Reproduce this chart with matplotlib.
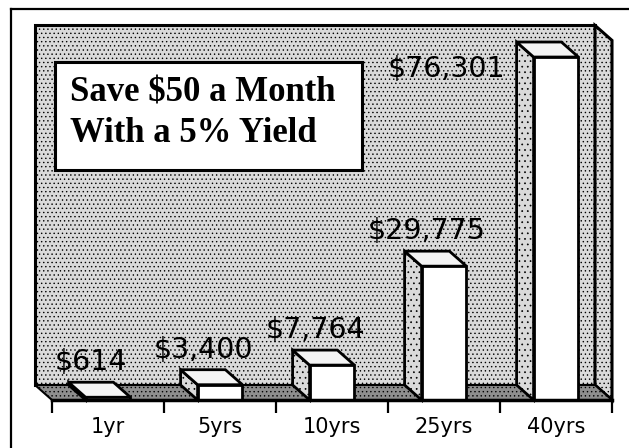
import matplotlib
matplotlib.use("Agg")
import matplotlib.pyplot as plt
from matplotlib.patches import Polygon, Rectangle
from matplotlib.lines import Line2D

# data
periods = ["1yr", "5yrs", "10yrs", "25yrs", "40yrs"]
savings = [614, 3400, 7764, 29775, 76301]
title_lines = ["Save $50 a Month", "With a 5% Yield"]

W, H = 629, 448
fig = plt.figure(figsize=(W / 100, H / 100), dpi=100)
fig.patch.set_facecolor("white")

# front plane of the 3d box, in pixels
left_px, right_px, base_px, top_px = 52, 612, 400, 40.4
ax = fig.add_axes([left_px / W, 1 - base_px / H,
                   (right_px - left_px) / W, (base_px - top_px) / H])
ymax = 80000
n = len(periods)
ax.set_xlim(-0.5, n - 0.5)
ax.set_ylim(0, ymax)

# depth of the box, pixels -> data units
ppx = (right_px - left_px) / n
ppy = (base_px - top_px) / ymax
dx = -17 / ppx
dy = 15 / ppy

wall_col = "#dadada"
floor_col = "#8e8e8e"
plt.rcParams["hatch.color"] = "#8a8a8a"
plt.rcParams["hatch.linewidth"] = 0.5

# back wall
ax.add_patch(Polygon([(-0.5 + dx, dy), (-0.5 + dx, ymax + dy), (n - 0.5 + dx, ymax + dy),
                      (n - 0.5 + dx, dy)], closed=True, facecolor=wall_col, hatch="....",
                     edgecolor="black", lw=2.2, clip_on=False, zorder=1))
# right side wall
ax.add_patch(Polygon([(n - 0.5 + dx, dy), (n - 0.5 + dx, ymax + dy), (n - 0.5, ymax),
                      (n - 0.5, 0)], closed=True, facecolor=wall_col, hatch="....",
                     edgecolor="black", lw=2.2, clip_on=False, zorder=1))
# floor
ax.add_patch(Polygon([(-0.5, 0), (n - 0.5, 0), (n - 0.5 + dx, dy), (-0.5 + dx, dy)],
                     closed=True, facecolor=floor_col, hatch="....", edgecolor="black",
                     lw=1.5, clip_on=False, zorder=2))

# bars
bw = 0.4
for i, v in enumerate(savings):
    x0, x1 = i - bw / 2, i + bw / 2
    side = [(x0, 0), (x0, v), (x0 + dx, v + dy), (x0 + dx, dy)]
    top = [(x0, v), (x1, v), (x1 + dx, v + dy), (x0 + dx, v + dy)]
    ax.add_patch(Polygon(side, closed=True, facecolor=wall_col, hatch="...",
                         edgecolor="black", lw=2, clip_on=False, zorder=3, joinstyle="miter"))
    ax.add_patch(Polygon(top, closed=True, facecolor="#f4f4f4", edgecolor="black",
                         lw=2, clip_on=False, zorder=3, joinstyle="miter"))
    ax.add_patch(Rectangle((x0, 0), bw, v, facecolor="white", edgecolor="black",
                           lw=2, clip_on=False, zorder=4, joinstyle="miter"))
    label = f"${v:,}"
    if v + dy + 30 / ppy < ymax:
        ax.text(i + dx, v + dy + 20 / ppy, label, ha="center", va="center",
                fontsize=20.5, family="DejaVu Sans", zorder=5)
    else:
        ax.text(x0 + dx - 11 / ppx, v + dy - 27 / ppy, label, ha="right", va="center",
                fontsize=20.5, family="DejaVu Sans", zorder=5)

# axis: thick floor edge, ticks between categories
for s in ["left", "right", "top"]:
    ax.spines[s].set_visible(False)
ax.spines["bottom"].set_linewidth(2.5)
ax.spines["bottom"].set_zorder(6)
ax.set_yticks([])
ax.set_xticks([i - 0.5 for i in range(n + 1)])
ax.set_xticklabels([])
ax.tick_params(axis="x", which="major", length=9, width=1.6, direction="out")
ax.set_xticks(range(n), minor=True)
ax.set_xticklabels(periods, minor=True, fontsize=15, family="DejaVu Sans")
ax.tick_params(axis="x", which="minor", length=0, pad=12)
ax.patch.set_visible(False)

# title box
fig.add_artist(Rectangle((55 / W, 1 - 170 / H), (362 - 55) / W, (170 - 62) / H,
                         transform=fig.transFigure, facecolor="white", edgecolor="black",
                         lw=2.2, zorder=10))
for k, line in enumerate(title_lines):
    fig.text(70 / W, 1 - (102 + 40 * k) / H, line, ha="left", va="baseline",
             fontsize=25, fontweight="bold", family="Liberation Serif", zorder=11)

# outer frame
fig.add_artist(Line2D([11 / W, 11 / W], [0, 1 - 9 / H], color="black", lw=1.6))
fig.add_artist(Line2D([11 / W, 1], [1 - 9 / H, 1 - 9 / H], color="black", lw=1.6))

fig.savefig("out.png", dpi=100)
